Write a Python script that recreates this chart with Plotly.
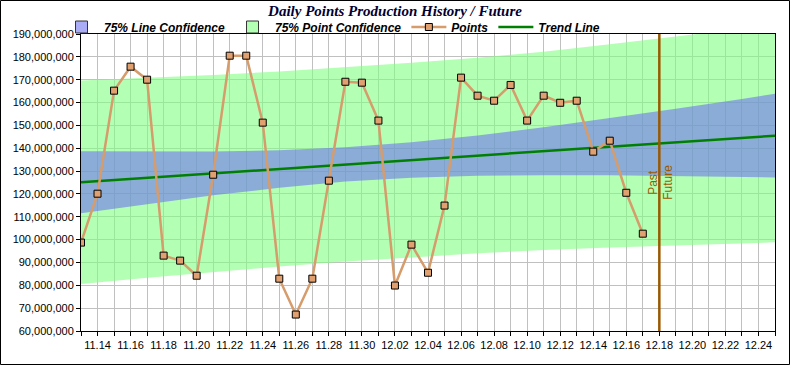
import plotly.graph_objects as go

# ---------------- data ----------------
point_dates = [
    "2013-11-13", "2013-11-14", "2013-11-15", "2013-11-16", "2013-11-17",
    "2013-11-18", "2013-11-19", "2013-11-20", "2013-11-21", "2013-11-22",
    "2013-11-23", "2013-11-24", "2013-11-25", "2013-11-26", "2013-11-27",
    "2013-11-28", "2013-11-29", "2013-11-30", "2013-12-01", "2013-12-02",
    "2013-12-03", "2013-12-04", "2013-12-05", "2013-12-06", "2013-12-07",
    "2013-12-08", "2013-12-09", "2013-12-10", "2013-12-11", "2013-12-12",
    "2013-12-13", "2013-12-14", "2013-12-15", "2013-12-16", "2013-12-17",
]
points = [
    98.7e6, 120.1e6, 165.2e6, 175.7e6, 170.0e6,
    93.0e6, 90.8e6, 84.2e6, 128.4e6, 180.5e6,
    180.5e6, 151.2e6, 82.9e6, 67.2e6, 82.9e6,
    125.8e6, 169.1e6, 168.7e6, 152.1e6, 79.9e6,
    97.8e6, 85.5e6, 114.9e6, 170.9e6, 163.0e6,
    160.8e6, 167.7e6, 152.1e6, 163.0e6, 159.9e6,
    160.8e6, 138.5e6, 143.3e6, 120.5e6, 102.6e6,
]

trend_dates = ["2013-11-13", "2013-12-25"]
trend_values = [125.1e6, 145.5e6]

band_dates = [
    "2013-11-13", "2013-11-17", "2013-11-21", "2013-11-25", "2013-11-29",
    "2013-12-03", "2013-12-07", "2013-12-11", "2013-12-15", "2013-12-19",
    "2013-12-23", "2013-12-25",
]
line_conf_upper = [138.7e6, 138.5e6, 138.6e6, 139.1e6, 140.4e6, 142.6e6,
                   145.6e6, 149.2e6, 153.2e6, 157.3e6, 161.6e6, 163.8e6]
line_conf_lower = [111.5e6, 115.5e6, 119.4e6, 122.7e6, 125.4e6, 127.1e6,
                   128.0e6, 128.2e6, 128.2e6, 127.9e6, 127.4e6, 127.2e6]
point_conf_upper = [169.6e6, 170.7e6, 172.1e6, 173.6e6, 175.4e6, 177.4e6,
                    179.6e6, 182.2e6, 185.5e6, 189.0e6, 192.5e6, 194.0e6]
point_conf_lower = [80.6e6, 83.3e6, 85.9e6, 88.2e6, 90.4e6, 92.2e6,
                    94.0e6, 95.4e6, 96.6e6, 97.6e6, 98.4e6, 98.8e6]

divider_date = "2013-12-18"
x_range = ["2013-11-13", "2013-12-25"]
y_range = [60e6, 190e6]

# ---------------- styling ----------------
W, H = 790, 365
ML, MR, MT, MB = 81, 15, 34, 34
PW, PH = W - ML - MR, H - MT - MB

SANS = "Liberation Sans, Arial, sans-serif"
SERIF = "Liberation Serif, Times New Roman, serif"
BROWN = "#9a5800"
GREEN_FILL = "rgba(128,255,128,0.6)"
BLUE_FILL = "rgba(108,112,239,0.58)"

fig = go.Figure()

# point confidence band (drawn first)
fig.add_trace(go.Scatter(
    x=band_dates + band_dates[::-1],
    y=point_conf_upper + point_conf_lower[::-1],
    fill="toself", mode="lines", line=dict(width=0),
    fillcolor=GREEN_FILL, legendgroup="pc", showlegend=False,
    name="75% Point Confidence", hoverinfo="skip",
))
# line confidence band
fig.add_trace(go.Scatter(
    x=band_dates + band_dates[::-1],
    y=line_conf_upper + line_conf_lower[::-1],
    fill="toself", mode="lines", line=dict(width=0),
    fillcolor=BLUE_FILL, legendgroup="lc", showlegend=False,
    name="75% Line Confidence", hoverinfo="skip",
))
# legend entries (boxes with border) for the two bands
fig.add_trace(go.Bar(
    x=[None], y=[None], name="75% Line Confidence", legendgroup="lc",
    marker=dict(color=BLUE_FILL, line=dict(color="#333333", width=1)),
    legendrank=1,
))
fig.add_trace(go.Bar(
    x=[None], y=[None], name="75% Point Confidence", legendgroup="pc",
    marker=dict(color=GREEN_FILL, line=dict(color="#333333", width=1)),
    legendrank=2,
))
# trend line
fig.add_trace(go.Scatter(
    x=trend_dates, y=trend_values, mode="lines",
    line=dict(color="#008000", width=2.5),
    name="Trend Line", legendrank=4,
))
# points
fig.add_trace(go.Scatter(
    x=point_dates, y=points, mode="lines+markers",
    line=dict(color="#d69c6c", width=2.5),
    marker=dict(symbol="square", size=7, color="#e0a070",
                line=dict(color="black", width=1)),
    name="Points", legendrank=3,
))

# past / future divider
fig.add_shape(type="line", xref="x", yref="paper",
              x0=divider_date, x1=divider_date, y0=0, y1=1,
              line=dict(color=BROWN, width=2.5))
fig.add_annotation(x=divider_date, y=0.5, xref="x", yref="paper",
                   text="Past", textangle=-90, showarrow=False,
                   xshift=-7, font=dict(family=SANS, size=12, color=BROWN))
fig.add_annotation(x=divider_date, y=0.5, xref="x", yref="paper",
                   text="Future", textangle=-90, showarrow=False,
                   xshift=8, font=dict(family=SANS, size=12, color=BROWN))

# outer frame of the whole image
fig.add_shape(type="rect", xref="paper", yref="paper",
              x0=(0.5 - ML) / PW, x1=(W - 0.5 - ML) / PW,
              y0=(MT + PH - (H - 0.5)) / PH, y1=(MT + PH - 0.5) / PH,
              line=dict(color="black", width=1), fillcolor="rgba(0,0,0,0)",
              layer="above")

fig.update_layout(
    width=W, height=H,
    margin=dict(l=ML, r=MR, t=MT, b=MB, autoexpand=False),
    paper_bgcolor="white", plot_bgcolor="white",
    title=dict(text="Daily Points Production History / Future",
               x=0.5, xanchor="center", xref="container",
               y=1 - 11 / H, yanchor="middle", yref="container",
               font=dict(family=SERIF, size=15, color="#000033",
                         weight="bold", style="italic")),
    legend=dict(orientation="h", xref="container", yref="container",
                x=59 / W, xanchor="left",
                y=1 - 27 / H, yanchor="middle",
                bgcolor="rgba(0,0,0,0)", itemwidth=35,
                font=dict(family=SANS, size=12, color="black",
                          weight="bold", style="italic")),
    showlegend=True,
    hovermode=False,
)

fig.update_xaxes(
    type="date", range=x_range, automargin=False,
    tickformat="%m.%d", dtick=2 * 86400000, tick0="2013-11-14",
    ticks="outside", ticklen=4, tickcolor="black",
    showgrid=True, gridcolor="#c0c0c0", gridwidth=1,
    minor=dict(dtick=86400000, tick0="2013-11-13", showgrid=True,
               gridcolor="#c0c0c0", ticks="outside", ticklen=4,
               tickcolor="black"),
    showline=True, linecolor="black", linewidth=1, mirror=True,
    tickfont=dict(family=SANS, size=11, color="black"),
    zeroline=False,
)
fig.update_yaxes(
    range=y_range, dtick=10e6, tickformat=",d", automargin=False,
    ticks="outside", ticklen=4, tickcolor="black",
    showgrid=True, gridcolor="#c0c0c0", gridwidth=1,
    showline=True, linecolor="black", linewidth=1, mirror=True,
    tickfont=dict(family=SANS, size=11, color="black"),
    zeroline=False,
)

fig.write_html(
    "out.html",
    config={"displayModeBar": False},
    post_script="document.body.style.margin='0';"
                "document.body.style.overflow='hidden';",
)
